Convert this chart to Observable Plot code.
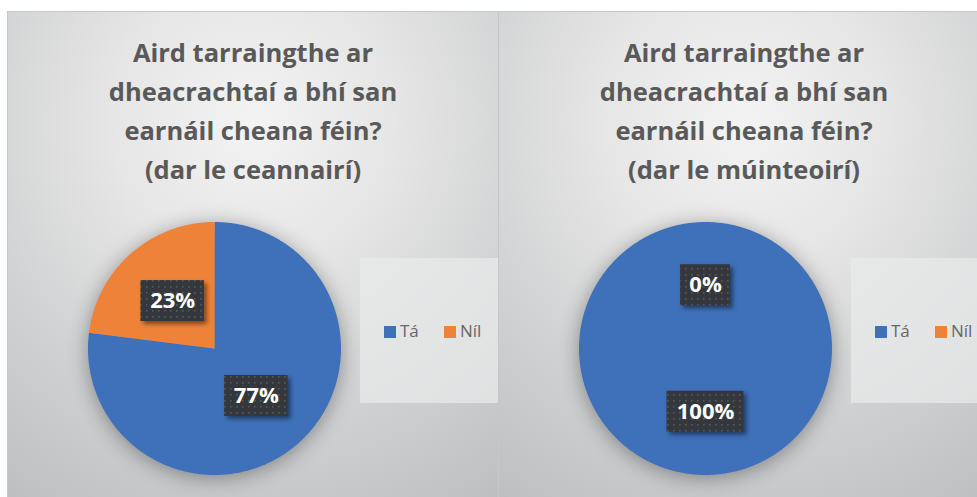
<!DOCTYPE html>
<html><head><meta charset="utf-8">
<script src="https://cdn.jsdelivr.net/npm/d3@7"></script>
<script src="https://cdn.jsdelivr.net/npm/@observablehq/plot@0.6"></script>
<style>
body{margin:0;background:#fff;}
#root{position:relative;width:977px;height:497px;overflow:hidden;background:#fff;font-family:"Open Sans",Lato,sans-serif;}
.panel{position:absolute;top:11px;width:492px;height:500px;box-sizing:border-box;border:1px solid #c6c7c8;
 background:radial-gradient(ellipse 95% 95% at 50% 22%, #f3f3f3 0%, #e6e6e6 30%, #d2d3d4 60%, #c0c2c4 90%, #b9bbbd 100%);}
.title{position:absolute;left:0;right:0;top:21px;text-align:center;font-weight:700;font-size:25.5px;line-height:39px;color:#595959;}
.pie{position:absolute;left:46px;top:176px;}
.legend{position:absolute;left:352px;top:246px;width:160px;height:145px;background:rgba(232,233,233,0.75);}
.item{position:absolute;top:62px;font-size:17px;color:#666;line-height:22px;}
.sw{display:inline-block;width:12px;height:12px;margin-right:4px;vertical-align:-1px;}
.pie g[aria-label=line]{filter:drop-shadow(0 3px 10px rgba(0,0,0,0.36));}
.pie g[aria-label=rect] rect{filter:drop-shadow(3px 3px 2px rgba(0,0,0,0.45));}
</style></head>
<body>
<svg width="0" height="0" style="position:absolute">
 <defs>
  <pattern id="dots" width="6" height="6" patternUnits="userSpaceOnUse">
   <rect width="6" height="6" fill="#34373c"/>
   <rect x="2" y="2" width="1.6" height="1.6" fill="#55585d"/>
  </pattern>
 </defs>
</svg>
<div id="root"></div>
<script>
const categories = ["Tá", "Níl"];
const colors = ["#3e71b9", "#ef8239"];
const leadersValues = [77, 23];
const teachersValues = [100, 0];
const titleLeaders = ["Aird tarraingthe ar", "dheacrachtaí a bhí san", "earnáil cheana féin?", "(dar le ceannairí)"];
const titleTeachers = ["Aird tarraingthe ar", "dheacrachtaí a bhí san", "earnáil cheana féin?", "(dar le múinteoirí)"];

const R = 126.5, S = 320, C = S / 2;

function piePlot(values) {
  const arcs = d3.pie().sort(null)(values);
  const pts = [];
  arcs.forEach((a, i) => {
    if (a.endAngle - a.startAngle <= 0) return;
    const cat = categories[i];
    pts.push({cat, x: 0, y: 0});
    const n = Math.max(2, Math.ceil((a.endAngle - a.startAngle) / 0.01));
    for (let k = 0; k <= n; k++) {
      const t = a.startAngle + (a.endAngle - a.startAngle) * k / n;
      pts.push({cat, x: Math.sin(t), y: Math.cos(t)});
    }
    pts.push({cat, x: 0, y: 0});
  });
  const labels = arcs.map((a, i) => {
    const m = (a.startAngle + a.endAngle) / 2;
    const text = values[i] + "%";
    const hw = (23 + 13.5 * text.length) / 2 / R;
    const hh = 20.5 / R;
    const lx = 0.5 * Math.sin(m), ly = 0.5 * Math.cos(m);
    return {text, lx, ly, x1: lx - hw, x2: lx + hw, y1: ly - hh, y2: ly + hh};
  });
  return Plot.plot({
    width: S, height: S, margin: 0,
    x: {domain: [-1, 1], range: [C - R, C + R], axis: null},
    y: {domain: [-1, 1], range: [C + R, C - R], axis: null},
    color: {domain: categories, range: colors},
    style: {background: "transparent", overflow: "visible"},
    marks: [
      Plot.line(pts, {x: "x", y: "y", z: "cat", fill: "cat", stroke: null, curve: "linear"}),
      Plot.rect(labels, {x1: "x1", x2: "x2", y1: "y1", y2: "y2", fill: "url(#dots)"}),
      Plot.text(labels, {x: "lx", y: "ly", text: "text", fill: "white", fontSize: 22, fontWeight: "bold", fontFamily: "'Open Sans', Lato, sans-serif"})
    ]
  });
}

function panel(left, lines, values) {
  const p = document.createElement("div");
  p.className = "panel";
  p.style.left = left + "px";
  const t = document.createElement("div");
  t.className = "title";
  t.innerHTML = lines.join("<br>");
  p.appendChild(t);
  const pie = document.createElement("div");
  pie.className = "pie";
  pie.appendChild(piePlot(values));
  p.appendChild(pie);
  const lg = document.createElement("div");
  lg.className = "legend";
  const offs = [24, 84];
  categories.forEach((c, i) => {
    const it = document.createElement("div");
    it.className = "item";
    it.style.left = offs[i] + "px";
    it.innerHTML = `<span class="sw" style="background:${colors[i]}"></span>${c}`;
    lg.appendChild(it);
  });
  p.appendChild(lg);
  document.getElementById("root").appendChild(p);
}
panel(7, titleLeaders, leadersValues);
panel(498, titleTeachers, teachersValues);
</script>
</body></html>
